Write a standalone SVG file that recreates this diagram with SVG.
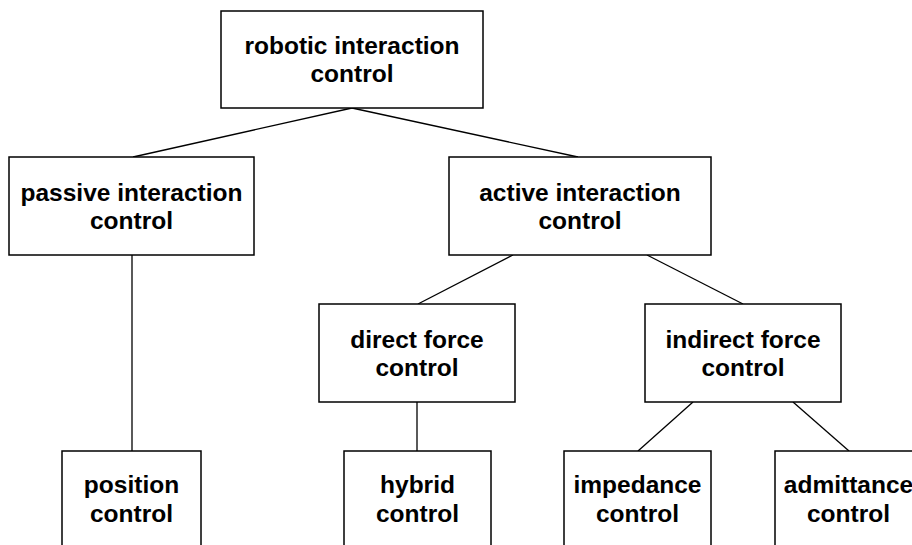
<svg xmlns="http://www.w3.org/2000/svg" width="912" height="545" viewBox="0 0 912 545">
<style>
rect{fill:#fff;stroke:#000;stroke-width:1.5}
line{stroke:#000;stroke-width:1.3}
text{font-family:"Liberation Sans",Arial,sans-serif;font-size:24.5px;font-weight:bold;text-anchor:middle;fill:#000}
</style>
<rect x="0" y="0" width="912" height="545" style="stroke:none"/>
<g id="connectors">
<line x1="352" y1="108" x2="133" y2="157"/>
<line x1="352" y1="108" x2="578" y2="157"/>
<line x1="132" y1="255" x2="132" y2="451"/>
<line x1="513" y1="255" x2="418" y2="304"/>
<line x1="647" y1="255" x2="743" y2="304"/>
<line x1="417" y1="402" x2="417" y2="451"/>
<line x1="693" y1="402" x2="638" y2="451"/>
<line x1="793" y1="402" x2="849" y2="451"/>
</g>
<g id="robotic">
<rect x="221" y="11" width="262" height="97"/>
<text x="352" y="54">robotic interaction</text>
<text x="352" y="82">control</text>
</g>
<g id="passive">
<rect x="9" y="157" width="245" height="98"/>
<text x="131.5" y="200.5">passive interaction</text>
<text x="131.5" y="229">control</text>
</g>
<g id="active">
<rect x="449" y="157" width="262" height="98"/>
<text x="580" y="200.5">active interaction</text>
<text x="580" y="229">control</text>
</g>
<g id="direct">
<rect x="319" y="304" width="196" height="98"/>
<text x="417" y="347.5">direct force</text>
<text x="417" y="376">control</text>
</g>
<g id="indirect">
<rect x="645" y="304" width="196" height="98"/>
<text x="743" y="347.5">indirect force</text>
<text x="743" y="376">control</text>
</g>
<g id="position">
<rect x="62" y="451" width="139" height="98"/>
<text x="131.5" y="493">position</text>
<text x="131.5" y="522">control</text>
</g>
<g id="hybrid">
<rect x="344" y="451" width="147" height="98"/>
<text x="417.5" y="493">hybrid</text>
<text x="417.5" y="522">control</text>
</g>
<g id="impedance">
<rect x="564" y="451" width="147" height="98"/>
<text x="637.5" y="493">impedance</text>
<text x="637.5" y="522">control</text>
</g>
<g id="admittance">
<rect x="775" y="451" width="147" height="98"/>
<text x="848.5" y="493">admittance</text>
<text x="848.5" y="522">control</text>
</g>
</svg>
